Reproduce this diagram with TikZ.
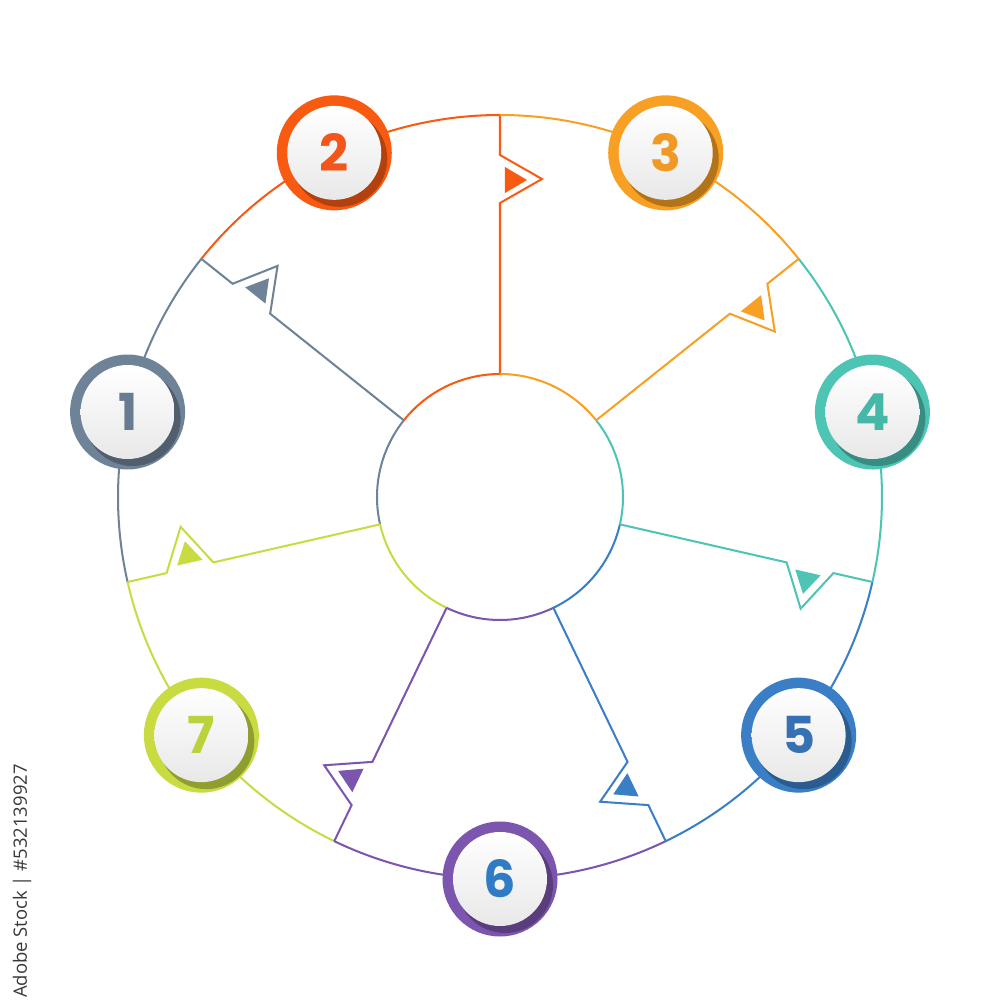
\documentclass[tikz,border=0pt]{standalone}
\usepackage{fontspec}
\setmainfont{Poppins}
\newfontfamily\wmfont{Open Sans}
\definecolor{cA}{HTML}{6F8398}
\definecolor{cB}{HTML}{F85A12}
\definecolor{cC}{HTML}{F8A023}
\definecolor{cD}{HTML}{4EC4B4}
\definecolor{cE}{HTML}{3A7FC6}
\definecolor{cF}{HTML}{7C55AE}
\definecolor{cG}{HTML}{C8DC42}
\definecolor{tA}{HTML}{687C91}
\definecolor{tB}{HTML}{F2561A}
\definecolor{tC}{HTML}{F09A25}
\definecolor{tD}{HTML}{45B8A7}
\definecolor{tE}{HTML}{3571B3}
\definecolor{tF}{HTML}{2F7CC4}
\definecolor{tG}{HTML}{BCD23C}
\tikzset{
  seg/.style={draw=#1, line width=1.15pt, line join=miter},
  numtext/.style={font=\fontsize{29}{29}\selectfont\bfseries, inner sep=0pt},
}
\begin{document}
\begin{tikzpicture}[scale=0.02]
\useasboundingbox (-500,-503) rectangle (500,497);
\fill[white] (-500,-503) rectangle (500,497);
\node[circle, minimum size=4.9cm, inner sep=0pt] (hub) at (0,0) {};
% segments, arcs and flagged spokes
\foreach \c [count=\k from 0] in {cB,cA,cG,cF,cE,cD,cC} {
  \pgfmathsetmacro\a{90+\k*360/7}
  \pgfmathsetmacro\b{\a+360/7}
  \draw[seg=\c] (\a:382) arc[start angle=\a, end angle=\b, radius=382];
  \draw[seg=\c] (\a:123) arc[start angle=\a, end angle=\b, radius=123];
  \coordinate (in\k) at (\a:123);
  \coordinate (out\k) at (\a:382);
  \draw[seg=\c] (in\k) -- (\a:294) -- ({\a-7.524}:320.76) -- (\a:342) -- (out\k);
  \fill[\c] ({\a-0.942}:304.04) -- ({\a-4.868}:318.15) -- ({\a-0.868}:330.04) -- cycle;
}
% numbered badges
\foreach \c/\t/\n [count=\k from 0] in {cB/tB/2,cA/tA/1,cG/tG/7,cF/tF/6,cE/tE/5,cD/tD/4,cC/tC/3} {
  \pgfmathsetmacro\m{90+\k*360/7+180/7}
  \begin{scope}[shift={(\m:382)}]
    \fill[\c] (0,0) circle[radius=57.5];
    \begin{scope}
      \clip (0,0) circle[radius=57];
      \fill[\c!72!black] (5,-6) circle[radius=48];
    \end{scope}
    \shade[top color=white, bottom color=black!9] (0,0) circle[radius=47];
    \node[numtext, text=\t] (n\n) at (0,0) {\n};
  \end{scope}
}
\node[rotate=90, font=\wmfont\fontsize{10.5}{10.5}\selectfont, text=black!78] (wm) at (-478,-384) {Adobe Stock | \#532139927};
\end{tikzpicture}
\end{document}
